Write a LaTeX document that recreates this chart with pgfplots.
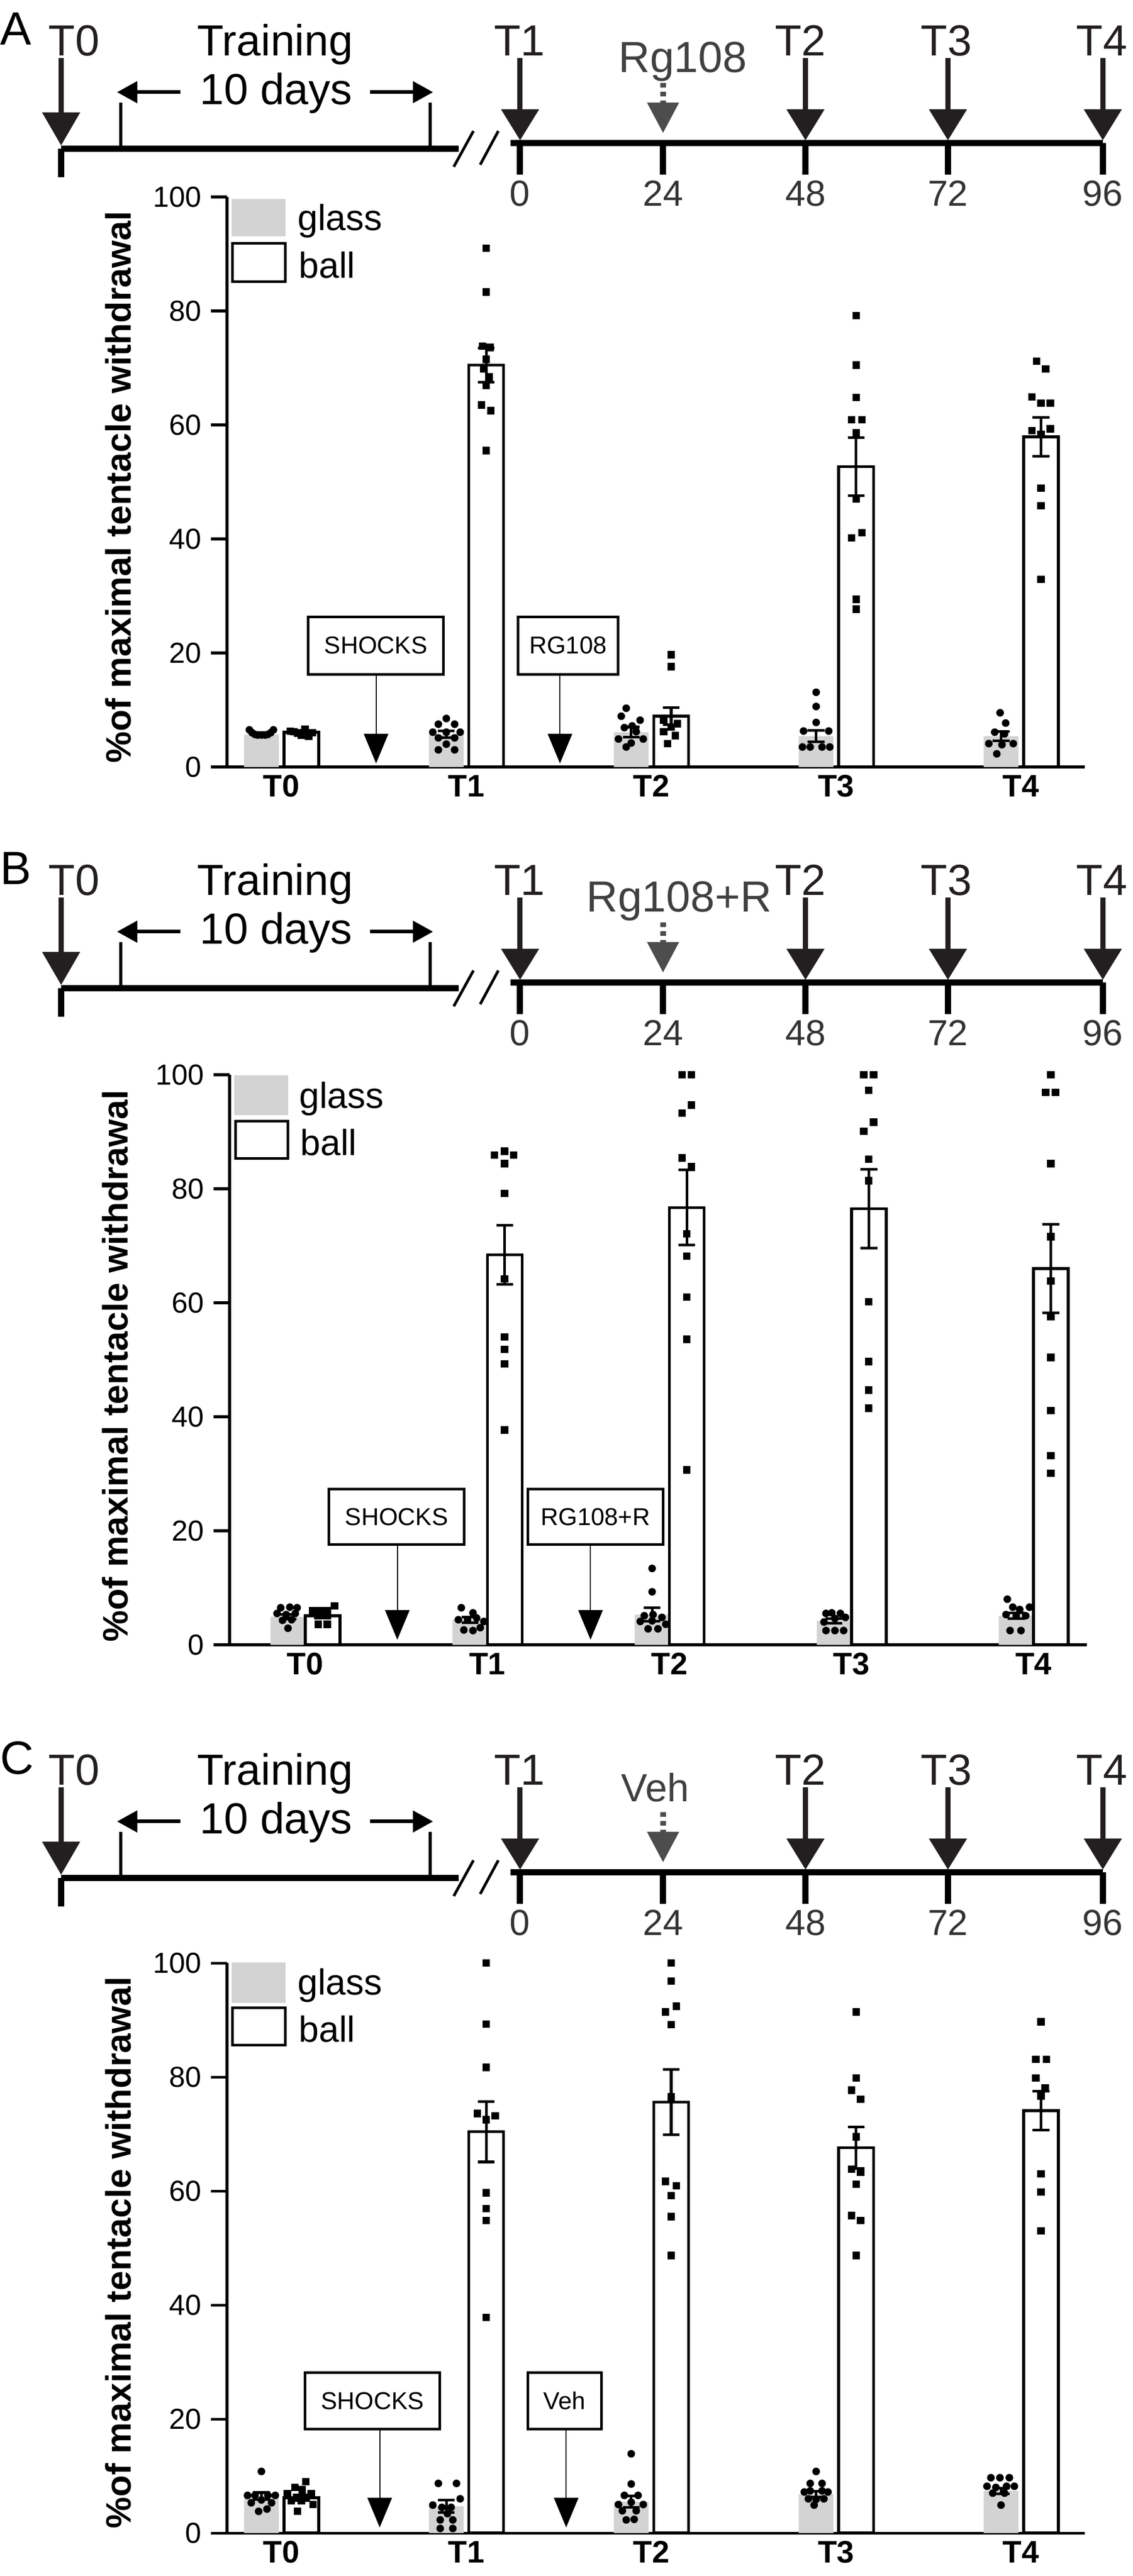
\documentclass[border=0pt]{standalone}
\usepackage{pgfplots}
\pgfplotsset{compat=1.18}
\usepackage{fontspec}
\setmainfont{Liberation Sans}
\usetikzlibrary{arrows.meta}
\definecolor{glassgray}{RGB}{211,211,211}
\definecolor{tlblack}{RGB}{35,31,32}
\definecolor{drugcol}{RGB}{64,64,64}
\definecolor{dashcol}{RGB}{77,77,77}
\definecolor{numcol}{RGB}{51,51,51}
\newcommand\fsz[1]{\fontsize{#1}{#1}\selectfont}

\newcommand\timeline[5]{%
\begin{scope}[shift={(0cm,#1)}, x=0.01cm, y=-0.01cm]
 \draw[line width=3.4pt, black] (118,287) -- (886,287);
 \draw[line width=3.4pt, black] (986,276) -- (2129,276);
 \draw[line width=3.4pt, black] (118,287) -- (118,342);
 \foreach \xx in {1004,1280,1555,1830,2129} \draw[line width=3.4pt, black] (\xx,276) -- (\xx,337);
 \draw[line width=1.7pt] (233,198) -- (233,283) (830,198) -- (830,283);
 \draw[line width=1.5pt] (876,322) -- (914,253) (927,318) -- (962,253);
 \draw[line width=2.85pt, tlblack, -{Triangle[length=0.64cm,width=0.71cm]}] (118,112) -- (118,281);
 \foreach \xx in {1004,1555,1830,2129} \draw[line width=2.85pt, tlblack, -{Triangle[length=0.60cm,width=0.71cm]}] (\xx,112) -- (\xx,271);
 \draw[line width=2pt, -{Triangle[length=0.39cm,width=0.41cm]}] (348,178) -- (226,178);
 \draw[line width=2pt, -{Triangle[length=0.39cm,width=0.41cm]}] (714,178) -- (836,178);
 \draw[dashcol, line width=3.1pt, dash pattern=on 2.6pt off 2.2pt, -{Triangle[length=0.59cm,width=0.59cm]}] (1280,160) -- (1280,257);
 \begin{scope}[every node/.style={inner sep=0pt}]
  \node[anchor=base west, font=\fsz{25.6pt}] at (0,87) {#2};
  \node[anchor=base, font=\fsz{23.9pt}, text=tlblack] at (143,108) {T0};
  \node[anchor=base, font=\fsz{23.9pt}, text=tlblack] at (1003,108) {T1};
  \node[anchor=base, font=\fsz{23.9pt}, text=tlblack] at (1545,108) {T2};
  \node[anchor=base, font=\fsz{23.9pt}, text=tlblack] at (1827,108) {T3};
  \node[anchor=base, font=\fsz{23.9pt}, text=tlblack] at (2127,108) {T4};
  \node[anchor=base, font=\fsz{23.9pt}] at (531,108) {Training};
  \node[anchor=base, font=\fsz{23.9pt}] at (533,202) {10 days};
  \node[anchor=base, font=#5, text=drugcol] at (#4,140) {#3};
  \foreach \xx/\lab in {1004/0,1280/24,1555/48,1830/72,2129/96}
   \node[anchor=north, font=\fsz{19.9pt}, text=numcol] at (\xx,348) {\lab};
 \end{scope}
\end{scope}}

\pgfplotsset{
 panel/.style={
  scale only axis, width=16.55cm, height=11cm, anchor=south west,
  ymin=0, ymax=100, ytick={0,20,...,100},
  axis x line*=bottom, axis y line*=left,
  axis line style={line width=1.45pt, black},
  xtick={0,1,2,3,4}, xticklabels={T0,T1,T2,T3,T4},
  xtick style={draw=none},
  ytick style={line width=1.45pt, black},
  ytick align=outside, major tick length=0.31cm,
  xticklabel style={font=\bfseries\fsz{17.1pt}, inner sep=0pt, yshift=-0.15cm},
  yticklabel style={font=\fsz{15.9pt}, inner sep=0pt, xshift=-0.18cm},
  /pgf/number format/assume math mode=true,
  ylabel={\%of maximal tentacle withdrawal},
  ylabel style={font=\bfseries\fsz{19.4pt}, anchor=base, inner sep=0pt},
  clip=false,
 },
 glassbar/.style={ybar, bar width=#1, bar shift=0pt, fill=glassgray, draw=none,
   error bars/.cd, y dir=both, y explicit,
   error bar style={draw=black, line width=1.45pt},
   error mark options={draw=black, rotate=90, mark size=4.6pt, line width=1.45pt}},
 ballbar/.style={ybar, bar width=#1, bar shift=0pt, fill=white, draw=black, line width=1.55pt,
   error bars/.cd, y dir=both, y explicit,
   error bar style={draw=black, line width=1.45pt},
   error mark options={draw=black, rotate=90, mark size=4.6pt, line width=1.45pt}},
 glasspts/.style={only marks, mark=*, mark size=1.9pt, black},
 ballpts/.style={only marks, mark=square*, mark size=1.85pt, black},
}

\begin{document}
\begin{tikzpicture}
\useasboundingbox (0,0) rectangle (21.86cm,-49.71cm);

\timeline{0cm}{A}{Rg108}{1318}{\fsz{23.9pt}}
\timeline{-16.20cm}{B}{Rg108+R}{1311}{\fsz{23.9pt}}
\timeline{-33.37cm}{C}{Veh}{1265}{\fsz{21.6pt}}

% ---------------- Panel A ----------------
\begin{axis}[panel, at={(4.38cm,-14.80cm)}, xmin=-0.294, xmax=4.345,
  ylabel style={at={(axis description cs:-0.1118,0.491)}}]
\addplot[glassbar=0.188] coordinates {(-0.108,5.7) +- (0,0.3) (0.892,5.7) +- (0,0.6) (1.892,6.1) +- (0,0.9) (2.892,5.4) +- (0,1.0) (3.892,5.4) +- (0,0.8)};
\addplot[ballbar=0.188] coordinates {(0.108,6.1) +- (0,0.3) (1.108,70.5) +- (0,3.0) (2.108,8.9) +- (0,1.5) (3.108,52.7) +- (0,5.1) (4.108,57.9) +- (0,3.4)};
\addplot[glasspts] coordinates {
(-0.173,6.5) (-0.158,6.0) (-0.143,5.7) (-0.128,5.6) (-0.108,5.6) (-0.088,5.6) (-0.073,5.7) (-0.058,6.0) (-0.043,6.5)
(0.892,8.5) (0.849,7.5) (0.937,7.5) (0.819,6.1) (0.892,6.1) (0.967,6.1) (0.849,5.1) (0.937,5.1) (0.892,4.0) (0.849,3.0) (0.937,3.0)
(1.865,10.3) (1.838,8.9) (1.940,8.2) (1.897,7.2) (1.855,6.9) (1.919,6.2) (1.823,4.9) (1.957,4.9) (1.892,4.2) (1.865,3.5)
(2.892,13.1) (2.892,10.6) (2.892,7.8) (2.824,6.3) (2.960,6.3) (2.818,3.5) (2.860,3.5) (2.924,3.5) (2.966,3.5)
(3.887,9.5) (3.917,7.7) (3.858,6.1) (3.911,5.8) (3.826,4.1) (3.958,4.1) (3.897,3.9) (3.869,2.3)};
\addplot[ballpts] coordinates {
(0.048,6.3) (0.068,6.2) (0.088,5.9) (0.108,5.6) (0.128,6.6) (0.148,5.4) (0.168,6.0)
(1.108,91.0) (1.108,83.3) (1.088,73.8) (1.128,73.6) (1.108,71.5) (1.093,69.8) (1.123,68.4) (1.108,66.9) (1.083,63.5) (1.133,62.5) (1.108,55.5)
(2.108,19.7) (2.108,17.6) (2.068,8.2) (2.142,7.6) (2.108,7.0) (2.068,6.2) (2.131,5.5) (2.089,4.1)
(3.108,79.2) (3.108,70.5) (3.108,64.8) (3.083,60.9) (3.140,60.9) (3.108,58.6) (3.108,47.0) (3.083,40.2) (3.140,41.1) (3.108,29.4) (3.108,27.7)
(4.085,71.2) (4.133,69.8) (4.059,64.9) (4.108,63.8) (4.159,63.8) (4.059,59.0) (4.159,59.3) (4.108,58.3) (4.108,48.9) (4.108,45.8) (4.108,32.9)};
\end{axis}

% ---------------- Panel B ----------------
\begin{axis}[panel, at={(4.43cm,-31.74cm)}, width=16.54cm, xmin=-0.4157, xmax=4.293,
  ylabel style={at={(axis description cs:-0.1191,0.489)}}]
\addplot[glassbar=0.191] coordinates {(-0.0954,4.9) +- (0,0.4) (0.9046,4.4) +- (0,0.5) (1.9046,5.3) +- (0,1.2) (2.9046,4.2) +- (0,0.4) (3.9046,5.1) +- (0,0.5)};
\addplot[ballbar=0.191] coordinates {(0.0954,5.1) +- (0,0.4) (1.0954,68.4) +- (0,5.2) (2.0954,76.7) +- (0,6.6) (3.0954,76.5) +- (0,6.9) (4.0954,66.0) +- (0,7.8)};
\addplot[glasspts] coordinates {
(-0.135,6.5) (-0.085,6.6) (-0.045,6.5) (-0.155,5.5) (-0.105,5.3) (-0.055,5.5) (-0.125,4.3) (-0.075,4.4) (-0.095,2.9)
(0.857,6.5) (0.921,5.6) (0.841,4.4) (0.891,4.4) (0.941,4.7) (0.981,4.1) (0.871,2.6) (0.921,2.5) (0.961,3.0)
(1.905,13.4) (1.905,9.3) (1.862,5.1) (1.910,5.3) (1.959,4.8) (1.840,4.1) (1.980,3.6) (1.883,2.8) (1.937,2.8) (1.905,4.2)
(2.860,5.5) (2.892,5.6) (2.939,5.5) (2.967,4.8) (2.849,4.0) (2.909,4.6) (2.860,2.5) (2.909,2.5) (2.957,2.5)
(3.856,8.0) (3.886,6.6) (3.924,6.2) (3.978,6.6) (3.849,5.3) (3.905,5.1) (3.957,5.1) (3.871,2.5) (3.931,2.5)};
\addplot[ballpts] coordinates {
(0.041,6.0) (0.081,6.0) (0.121,6.0) (0.161,6.8) (0.071,3.6) (0.121,3.6)
(1.039,85.9) (1.145,85.9) (1.095,86.6) (1.095,84.4) (1.095,79.2) (1.095,64.2) (1.095,54.0) (1.095,51.8) (1.095,49.3) (1.095,37.7)
(2.069,100) (2.121,100) (2.121,94.7) (2.069,93.3) (2.069,85.4) (2.121,83.9) (2.095,72.1) (2.095,68.2) (2.095,61.0) (2.095,53.6) (2.095,30.7)
(3.067,100) (3.121,100) (3.095,97.3) (3.121,91.7) (3.067,90.1) (3.095,85.2) (3.095,81.4) (3.095,60.2) (3.095,49.7) (3.095,44.7) (3.095,41.5)
(4.095,100) (4.067,96.9) (4.121,96.9) (4.095,84.4) (4.095,71.6) (4.095,63.8) (4.095,57.6) (4.095,50.4) (4.095,41.1) (4.095,33.2) (4.095,30.1)};
\end{axis}

% ---------------- Panel C ----------------
\begin{axis}[panel, at={(4.38cm,-48.88cm)}, xmin=-0.294, xmax=4.345,
  ylabel style={at={(axis description cs:-0.1118,0.492)}}]
\addplot[glassbar=0.188] coordinates {(-0.108,6.5) +- (0,0.6) (0.892,4.7) +- (0,1.1) (1.892,5.5) +- (0,1.0) (2.892,6.8) +- (0,0.5) (3.892,7.4) +- (0,0.5)};
\addplot[ballbar=0.188] coordinates {(0.108,6.2) +- (0,0.5) (1.108,70.4) +- (0,5.3) (2.108,75.6) +- (0,5.7) (3.108,67.6) +- (0,3.6) (4.108,74.1) +- (0,3.4)};
\addplot[glasspts] coordinates {
(-0.108,10.8) (-0.183,6.6) (-0.143,6.6) (-0.073,6.6) (-0.033,6.6) (-0.163,5.3) (-0.053,5.3) (-0.108,5.8) (-0.123,3.8) (-0.078,4.2)
(0.849,8.7) (0.947,8.7) (0.967,6.0) (0.819,4.9) (0.868,4.5) (0.918,4.5) (0.898,3.4) (0.859,2.3) (0.927,2.3) (0.859,0.8) (0.927,0.8)
(1.892,13.9) (1.892,8.6) (1.855,6.6) (1.929,6.6) (1.823,5.0) (1.892,5.4) (1.957,5.0) (1.844,3.9) (1.919,3.9) (1.865,2.3) (1.908,2.4)
(2.892,10.8) (2.860,8.7) (2.924,8.7) (2.828,7.2) (2.860,7.4) (2.924,7.4) (2.956,7.2) (2.850,6.0) (2.892,5.9) (2.934,6.0) (2.881,4.9)
(3.837,9.7) (3.886,9.7) (3.937,9.7) (3.816,8.2) (3.864,8.0) (3.922,8.2) (3.964,8.2) (3.847,7.0) (3.911,7.0) (3.892,4.9)};
\addplot[ballpts] coordinates {
(0.132,9.0) (0.073,8.0) (0.113,7.6) (0.033,6.9) (0.161,6.9) (0.053,5.7) (0.108,5.7) (0.171,5.0) (0.088,3.8)
(1.108,100) (1.108,89.3) (1.108,81.7) (1.059,73.6) (1.157,73.2) (1.108,72.5) (1.108,59.7) (1.108,56.9) (1.108,54.8) (1.108,37.8)
(2.108,100) (2.108,96.8) (2.078,91.4) (2.136,92.4) (2.108,89.2) (2.108,76.5) (2.078,61.7) (2.136,60.9) (2.108,59.2) (2.108,55.5) (2.108,48.7)
(3.108,91.4) (3.108,79.8) (3.083,77.7) (3.133,76.1) (3.108,69.5) (3.083,63.8) (3.133,63.3) (3.108,61.2) (3.083,55.7) (3.133,54.8) (3.108,48.7)
(4.108,89.7) (4.080,83.1) (4.138,83.1) (4.080,79.8) (4.131,78.1) (4.108,76.7) (4.108,63.0) (4.108,59.8) (4.108,53.0)};
\end{axis}

% ---------------- legends and annotation boxes ----------------
\begin{scope}[x=0.01cm, y=-0.01cm, every node/.style={inner sep=0pt}]
 % legend A
 \fill[glassgray] (447,384) rectangle (551,456);
 \draw[line width=1.45pt, fill=white] (449,470) rectangle (551,544);
 \node[anchor=base west, font=\fsz{19.9pt}] at (574,445) {glass};
 \node[anchor=base west, font=\fsz{19.9pt}] at (576,537) {ball};
 % legend B
 \fill[glassgray] (452,2076) rectangle (556,2153);
 \draw[line width=1.45pt, fill=white] (455,2165) rectangle (556,2237);
 \node[anchor=base west, font=\fsz{19.9pt}] at (577,2140) {glass};
 \node[anchor=base west, font=\fsz{19.9pt}] at (579,2231) {ball};
 % legend C
 \fill[glassgray] (447,3789) rectangle (551,3867);
 \draw[line width=1.45pt, fill=white] (449,3877) rectangle (551,3949);
 \node[anchor=base west, font=\fsz{19.9pt}] at (574,3852) {glass};
 \node[anchor=base west, font=\fsz{19.9pt}] at (576,3943) {ball};
 % boxes A
 \draw[line width=1.3pt] (595,1191) rectangle (856,1302);
 \node[font=\fsz{13.4pt}] at (725.5,1246.5) {SHOCKS};
 \draw[line width=0.6pt, -{Triangle[length=0.57cm,width=0.47cm]}] (726,1302) -- (726,1474);
 \draw[line width=1.3pt] (1000,1191) rectangle (1193,1302);
 \node[font=\fsz{13.4pt}] at (1096.5,1246.5) {RG108};
 \draw[line width=0.6pt, -{Triangle[length=0.57cm,width=0.47cm]}] (1081,1302) -- (1081,1474);
 % boxes B
 \draw[line width=1.3pt] (635,2875) rectangle (896,2982);
 \node[font=\fsz{13.4pt}] at (765.5,2928.5) {SHOCKS};
 \draw[line width=0.6pt, -{Triangle[length=0.57cm,width=0.47cm]}] (767,2982) -- (767,3166);
 \draw[line width=1.3pt] (1019,2875) rectangle (1280,2982);
 \node[font=\fsz{13.4pt}] at (1149.5,2928.5) {RG108+R};
 \draw[line width=0.6pt, -{Triangle[length=0.57cm,width=0.47cm]}] (1140,2982) -- (1140,3166);
 % boxes C
 \draw[line width=1.3pt] (589,4581) rectangle (849,4690);
 \node[font=\fsz{13.4pt}] at (719,4635.5) {SHOCKS};
 \draw[line width=0.6pt, -{Triangle[length=0.57cm,width=0.47cm]}] (733,4690) -- (733,4880);
 \draw[line width=1.3pt] (1019,4581) rectangle (1161,4690);
 \node[font=\fsz{13.4pt}] at (1090,4635.5) {Veh};
 \draw[line width=0.6pt, -{Triangle[length=0.57cm,width=0.47cm]}] (1093,4690) -- (1093,4880);
\end{scope}
\end{tikzpicture}
\end{document}
